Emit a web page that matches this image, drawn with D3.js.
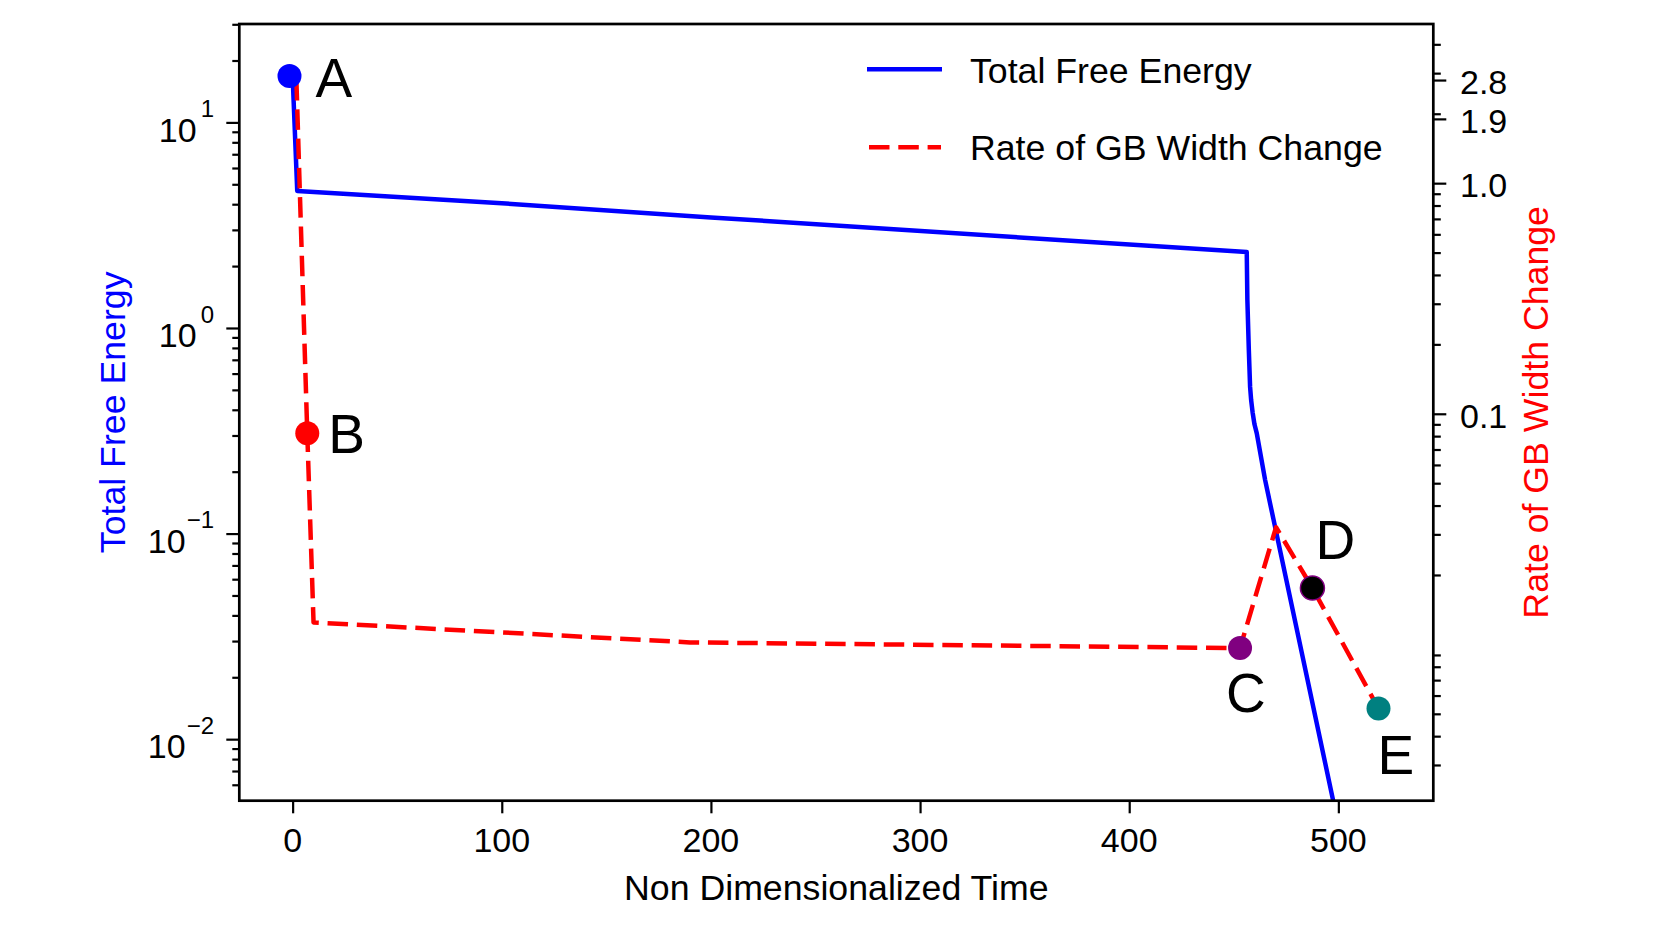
<!DOCTYPE html>
<html>
<head>
<meta charset="utf-8">
<script src="https://cdn.jsdelivr.net/npm/d3@7"></script>
<style>
  body { margin: 0; background: #fff; }
  svg { display: block; font-family: "Liberation Sans", Arial, sans-serif; }
</style>
</head>
<body>
<svg id="chart" width="1661" height="935"></svg>
<script>
// total free energy (left axis, log scale)
var energyTime  = [0, 2.2, 100, 200, 456.2, 456.5, 457.2, 457.8, 458.3, 459.0, 459.9, 461.0, 465.0, 497.6];
var energyValue = [16.8, 4.64, 4.04, 3.45, 2.34, 1.37, 0.78, 0.517, 0.446, 0.389, 0.340, 0.307, 0.182, 0.00498];

// rate of GB width change (right axis, log scale)
var rateTime  = [1.8, 7.0, 10.0, 190, 453, 470.2, 487.6, 519.2];
var rateValue = [2.8, 0.0824, 0.01245, 0.0102, 0.00964, 0.0322, 0.01756, 0.00527];

// labelled states A..E
var pointLabels = ["A", "B", "C", "D", "E"];
var pointTime   = [-1.5, 7.0, 453, 487.6, 519.2];
var pointValue  = [16.8, 0.0824, 0.00964, 0.01756, 0.00527];
var pointAxis   = ["left", "right", "right", "right", "right"];

// ticks
var xTicks          = [0, 100, 200, 300, 400, 500];
var leftTicks       = [0.01, 0.1, 1, 10];
var rightTicks      = [0.1, 1.0, 1.9, 2.8];
var rightTickLabels = ["0.1", "1.0", "1.9", "2.8"];

var seriesNames = ["Total Free Energy", "Rate of GB Width Change"];

// styling
var pointColors  = ["#0000ff", "#ff0000", "#800080", "#000000", "#008080"];
var pointStrokes = ["none", "none", "none", "#800080", "none"];
var labelOffsets = [[26, 21], [21, 20], [-14, 64], [3, -29], [-1, 65]];

var svg = d3.select("#chart");
var plotL = 239.3, plotR = 1433.3, plotT = 24, plotB = 800.7;
var titleSize = 35.7;

var x  = d3.scaleLinear().domain([-25.5, 545.4]).range([plotL, plotR]);
var yL = d3.scaleLog().domain([0.00502, 30.1]).range([plotB, plotT]);
var yR = d3.scaleLog().domain([0.0021, 4.9]).range([plotB, plotT]);

function logMinors(dom) {
  var out = [];
  for (var e = -4; e <= 2; e++) {
    for (var k = 2; k <= 9; k++) {
      var v = +(k * Math.pow(10, e)).toPrecision(6);
      if (v >= dom[0] && v <= dom[1]) out.push(v);
    }
  }
  return out;
}

svg.append("defs").append("clipPath").attr("id", "plotclip")
  .append("rect").attr("x", plotL).attr("y", plotT)
  .attr("width", plotR - plotL).attr("height", plotB - plotT);

// axes
function styleAxis(g) {
  g.select(".domain").remove();
  g.selectAll(".tick line").attr("stroke", "#000").attr("stroke-width", 2.2);
}

svg.append("g").attr("transform", "translate(0," + plotB + ")")
  .call(d3.axisBottom(x).tickValues(xTicks).tickSize(12.6).tickSizeOuter(0).tickFormat(""))
  .call(styleAxis);

svg.append("g").attr("transform", "translate(" + plotL + ",0)")
  .call(d3.axisLeft(yL).tickValues(leftTicks).tickSize(13).tickSizeOuter(0).tickFormat(""))
  .call(styleAxis);
svg.append("g").attr("transform", "translate(" + plotL + ",0)")
  .call(d3.axisLeft(yL).tickValues(logMinors(yL.domain())).tickSize(7).tickSizeOuter(0).tickFormat(""))
  .call(styleAxis);

svg.append("g").attr("transform", "translate(" + plotR + ",0)")
  .call(d3.axisRight(yR).tickValues(rightTicks).tickSize(13).tickSizeOuter(0).tickFormat(""))
  .call(styleAxis);
svg.append("g").attr("transform", "translate(" + plotR + ",0)")
  .call(d3.axisRight(yR).tickValues(logMinors(yR.domain()).filter(function(v) { return v !== 0.01; }))
    .tickSize(7.5).tickSizeOuter(0).tickFormat(""))
  .call(styleAxis);

// tick labels
svg.append("g").selectAll("text").data(xTicks).join("text")
  .attr("x", function(d) { return x(d); })
  .attr("y", plotB + 51)
  .attr("text-anchor", "middle")
  .attr("font-size", 34)
  .text(function(d) { return d; });

svg.append("g").selectAll("text").data(leftTicks).join("text")
  .attr("x", 214)
  .attr("y", function(d) { return yL(d) + 19.3; })
  .attr("text-anchor", "end")
  .attr("font-size", 34)
  .each(function(d) {
    var t = d3.select(this);
    var e = Math.round(Math.log10(d));
    t.append("tspan").text("10");
    t.append("tspan").attr("font-size", 24).attr("dx", e < 0 ? 1 : 4).attr("dy", -24.7)
      .text(e < 0 ? "\u2212" + (-e) : String(e));
  });

svg.append("g").selectAll("text").data(rightTicks).join("text")
  .attr("x", 1460)
  .attr("y", function(d) { return yR(d) + 13.8; })
  .attr("font-size", 34)
  .text(function(d, i) { return rightTickLabels[i]; });

// axis titles
svg.append("text").attr("x", (plotL + plotR) / 2).attr("y", 900)
  .attr("text-anchor", "middle").attr("font-size", titleSize)
  .text("Non Dimensionalized Time");

svg.append("text").attr("transform", "translate(125," + (plotT + plotB) / 2 + ") rotate(-90)")
  .attr("text-anchor", "middle").attr("font-size", titleSize).attr("fill", "#0000ff")
  .text("Total Free Energy");

svg.append("text").attr("transform", "translate(1548.3," + (plotT + plotB) / 2 + ") rotate(-90)")
  .attr("text-anchor", "middle").attr("font-size", titleSize).attr("fill", "#ff0000")
  .text("Rate of GB Width Change");

// lines
var plot = svg.append("g").attr("clip-path", "url(#plotclip)");

var energyLine = d3.line()
  .x(function(i) { return x(energyTime[i]); })
  .y(function(i) { return yL(energyValue[i]); });
plot.append("path").datum(d3.range(energyTime.length))
  .attr("d", energyLine)
  .attr("fill", "none").attr("stroke", "#0000ff").attr("stroke-width", 4.5)
  .attr("stroke-linejoin", "round");

var rateLine = d3.line()
  .x(function(i) { return x(rateTime[i]); })
  .y(function(i) { return yR(rateValue[i]); });
plot.append("path").datum(d3.range(rateTime.length))
  .attr("d", rateLine)
  .attr("fill", "none").attr("stroke", "#ff0000").attr("stroke-width", 4.5)
  .attr("stroke-dasharray", "20.5,8.8").attr("stroke-linejoin", "round");

// markers and letters
var pts = svg.append("g");
pts.selectAll("circle").data(pointLabels).join("circle")
  .attr("cx", function(d, i) { return x(pointTime[i]); })
  .attr("cy", function(d, i) { return pointAxis[i] === "left" ? yL(pointValue[i]) : yR(pointValue[i]); })
  .attr("r", 12)
  .attr("fill", function(d, i) { return pointColors[i]; })
  .attr("stroke", function(d, i) { return pointStrokes[i]; })
  .attr("stroke-width", 1.5);

pts.selectAll("text").data(pointLabels).join("text")
  .attr("x", function(d, i) { return x(pointTime[i]) + labelOffsets[i][0]; })
  .attr("y", function(d, i) {
    var cy = pointAxis[i] === "left" ? yL(pointValue[i]) : yR(pointValue[i]);
    return cy + labelOffsets[i][1];
  })
  .attr("font-size", 55)
  .text(function(d) { return d; });

// frame
svg.append("rect").attr("x", plotL).attr("y", plotT)
  .attr("width", plotR - plotL).attr("height", plotB - plotT)
  .attr("fill", "none").attr("stroke", "#000").attr("stroke-width", 2.7);

// legend
var legend = svg.append("g");
legend.append("line").attr("x1", 867).attr("x2", 942).attr("y1", 69.3).attr("y2", 69.3)
  .attr("stroke", "#0000ff").attr("stroke-width", 4.5);
legend.append("line").attr("x1", 869).attr("x2", 941).attr("y1", 147.3).attr("y2", 147.3)
  .attr("stroke", "#ff0000").attr("stroke-width", 4.5).attr("stroke-dasharray", "20.5,8.8");
legend.selectAll("text").data(seriesNames).join("text")
  .attr("x", 970)
  .attr("y", function(d, i) { return i === 0 ? 83.3 : 160; })
  .attr("font-size", titleSize)
  .text(function(d) { return d; });
</script>
</body>
</html>
